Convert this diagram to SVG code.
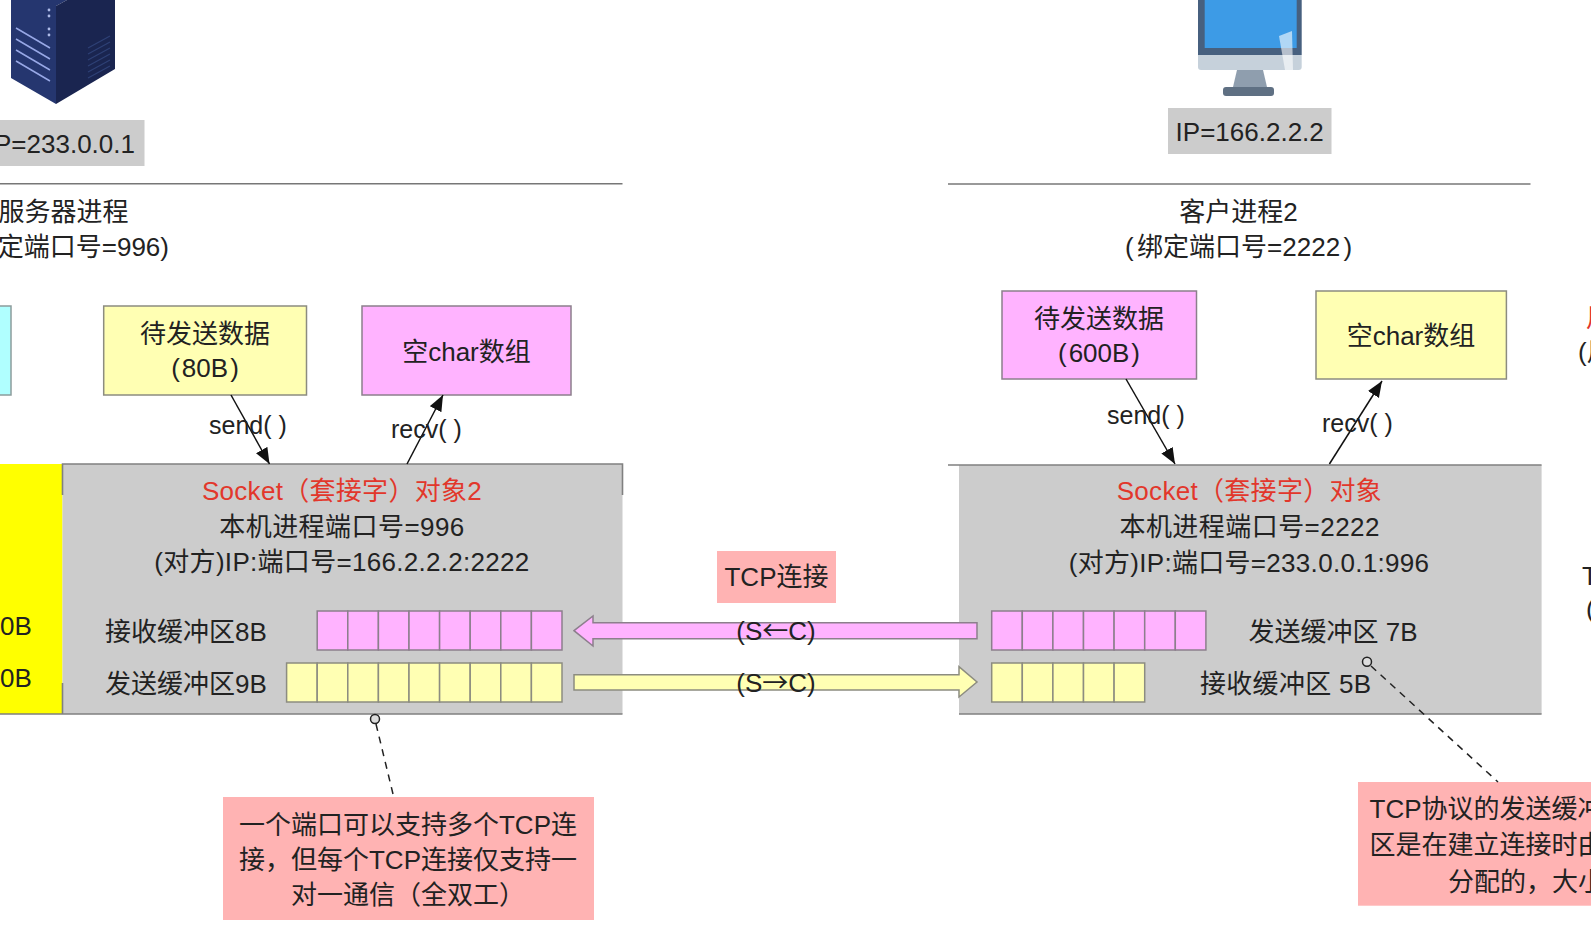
<svg xmlns="http://www.w3.org/2000/svg" width="1591" height="950" viewBox="0 0 1591 950">
<style>
text{font-family:"Liberation Sans","Noto Sans CJK SC",sans-serif;font-size:26px;fill:#222}
.m{text-anchor:middle}
.e{text-anchor:end}
.red{fill:#e2372b}
.fn{font-size:25px}
.ls{letter-spacing:.3px}
.lw{letter-spacing:.45px}
.cjk{font-family:"Noto Sans CJK SC",sans-serif}
.y{fill:#ffffb3;stroke:#8c8c80;stroke-width:1.5}
.p{fill:#ffb3ff;stroke:#8c7f8c;stroke-width:1.5}
.pk{fill:#ffb3b3}
.g{fill:#cccccc}
.edge{stroke:#808080;stroke-width:1.6;fill:none}
.c{stroke:#111;stroke-width:1.5;fill:none}
.d{stroke:#222;stroke-width:1.5;fill:none;stroke-dasharray:7 6}
.o{stroke:#222;stroke-width:1.5;fill:#ddd}
</style>
<defs>
<marker id="ah" markerUnits="userSpaceOnUse" markerWidth="18" markerHeight="14" refX="16" refY="6.5" orient="auto">
<path d="M0 0L16 6.5L0 13Z" fill="#111"/>
</marker>
<g id="py"><rect class="p" width="30.6" height="39"/></g>
<g id="yc"><rect class="y" width="30.6" height="39"/></g>
</defs>
<rect width="1591" height="950" fill="#fff"/>

<g id="server-icon">
<path d="M11 0V78L56 104V6L67 0Z" fill="#25366f"/>
<path d="M56 104L115 69V0H67L56 6Z" fill="#1a2550"/>
<g stroke="#98a8e6" stroke-width="1.5" fill="none">
<path d="M16 28L50 48M16 39L50 59M16 50L50 70M16 61L50 81"/>
</g>
<g fill="#aebbe8"><circle cx="49" cy="10" r="1.4"/><circle cx="49" cy="16" r="1.4"/><circle cx="49" cy="29" r="1.4"/><circle cx="49" cy="35" r="1.4"/></g>
<g stroke="#2e4075" stroke-width="1.2" fill="none">
<path d="M88 48L110 36M88 54L110 42M88 60L110 48M88 66L110 54M88 72L110 60M88 78L110 66"/>
</g>
</g>
<g id="server-ip">
<rect class="g" x="0" y="120" width="144.5" height="46"/>
<text x="135" y="153" class="e">P=233.0.0.1</text>
</g>
<path id="server-rule" d="M0 183.7H622.5" stroke="#777" stroke-width="1.5"/>
<g id="server-process">
<text x="-1.5" y="221">服务器进程</text>
<text x="169" y="256" class="e">定端口号=996)</text>
</g>
<g id="cyan-box"><rect x="-5" y="306" width="16" height="89" fill="#b0ffff" stroke="#8c9c9c" stroke-width="1.5"/></g>
<g id="server-send-data">
<rect class="y" x="103.7" y="306" width="202.8" height="89"/>
<text x="205" y="342.5" class="m">待发送数据</text>
<text x="205" y="377" class="m">(<tspan dx="2">80B</tspan><tspan dx="2">)</tspan></text>
</g>
<g id="server-recv-array">
<rect class="p" x="362" y="306" width="209" height="89"/>
<text x="466.5" y="360.5" class="m">空char数组</text>
</g>

<g id="server-socket">
<rect x="0" y="464" width="62.5" height="250" fill="#ffff00"/>
<rect class="g" x="62.5" y="464" width="560" height="250"/>
<path class="edge" d="M62.5 495V464H622.5V495M62.5 683V714M0 714H622.5"/>
<text x="342" y="500" class="m red ls">Socket（套接字）对象2</text>
<text x="342" y="536" class="m lw">本机进程端口号=996</text>
<text x="342" y="571" class="m ls">(对方)IP:端口号=166.2.2.2:2222</text>
<text x="0" y="635">0B</text>
<text x="0" y="687">0B</text>
<text x="105" y="641">接收缓冲区8B</text>
<text x="105" y="693">发送缓冲区9B</text>
<g id="server-recv-buffer">
<use href="#py" x="317.2" y="611"/><use href="#py" x="347.8" y="611"/><use href="#py" x="378.4" y="611"/><use href="#py" x="409" y="611"/><use href="#py" x="439.6" y="611"/><use href="#py" x="470.2" y="611"/><use href="#py" x="500.8" y="611"/><use href="#py" x="531.4" y="611"/>
</g>
<g id="server-send-buffer">
<use href="#yc" x="286.6" y="663"/><use href="#yc" x="317.2" y="663"/><use href="#yc" x="347.8" y="663"/><use href="#yc" x="378.4" y="663"/><use href="#yc" x="409" y="663"/><use href="#yc" x="439.6" y="663"/><use href="#yc" x="470.2" y="663"/><use href="#yc" x="500.8" y="663"/><use href="#yc" x="531.4" y="663"/>
</g>
</g>

<g id="server-note">
<rect class="pk" x="223" y="797" width="371" height="123"/>
<text x="408" y="834" class="m">一个端口可以支持多个TCP连</text>
<text x="408" y="869" class="m">接，但每个TCP连接仅支持一</text>
<text x="408" y="904" class="m">对一通信（全双工）</text>
</g>

<g id="client-icon">
<rect x="1198" y="0" width="103.7" height="55" fill="#47607f"/>
<rect x="1204.7" y="0" width="92" height="48" fill="#3d9be6"/>
<path d="M1198 55H1301.7V67Q1301.7 70 1298.7 70H1201Q1198 70 1198 67Z" fill="#c6d1db"/>
<path d="M1237 70H1263L1267 87H1233Z" fill="#8f9eae"/>
<rect x="1223" y="87" width="51" height="9" rx="3" fill="#5f7083"/>
<path d="M1279 36L1292 31L1293 70H1285Z" fill="#fff" fill-opacity="0.6"/>
</g>
<g id="client-ip">
<rect class="g" x="1168" y="108" width="163.5" height="46"/>
<text x="1249.7" y="141" class="m">IP=166.2.2.2</text>
</g>
<path id="client-rule" d="M948 184H1530.5" stroke="#777" stroke-width="1.5"/>
<g id="client-process">
<text x="1238.6" y="221" class="m">客户进程2</text>
<text x="1238.6" y="256" class="m">(<tspan dx="3.5">绑定端口号=2222</tspan><tspan dx="3.5">)</tspan></text>
</g>
<g id="client-send-data">
<rect class="p" x="1002" y="291" width="194.5" height="88"/>
<text x="1099" y="327.5" class="m">待发送数据</text>
<text x="1099" y="362" class="m">(<tspan dx="2">600B</tspan><tspan dx="2">)</tspan></text>
</g>
<g id="client-recv-array">
<rect class="y" x="1316" y="291" width="190.4" height="88"/>
<text x="1411" y="345" class="m">空char数组</text>
</g>

<g id="client-socket">
<rect class="g" x="959" y="465" width="582.6" height="249"/>
<path class="edge" d="M948 465H1541.6M959 714H1541.6"/>
<text x="1249.4" y="500" class="m red ls">Socket（套接字）对象</text>
<text x="1249.7" y="536" class="m lw">本机进程端口号=2222</text>
<text x="1249" y="571.5" class="m ls">(对方)IP:端口号=233.0.0.1:996</text>
<text x="1248.5" y="641">发送缓冲区 7B</text>
<text x="1200" y="693" class="ls">接收缓冲区 5B</text>
<g id="client-send-buffer">
<use href="#py" x="991.7" y="611"/><use href="#py" x="1022.3" y="611"/><use href="#py" x="1052.9" y="611"/><use href="#py" x="1083.5" y="611"/><use href="#py" x="1114.1" y="611"/><use href="#py" x="1144.7" y="611"/><use href="#py" x="1175.3" y="611"/>
</g>
<g id="client-recv-buffer">
<use href="#yc" x="991.7" y="663"/><use href="#yc" x="1022.3" y="663"/><use href="#yc" x="1052.9" y="663"/><use href="#yc" x="1083.5" y="663"/><use href="#yc" x="1114.1" y="663"/>
</g>
</g>

<g id="client-note">
<rect class="pk" x="1358" y="782" width="240" height="123.7"/>
<text x="1369.5" y="818">TCP协议的发送缓冲</text>
<text x="1369.5" y="854">区是在建立连接时由</text>
<text x="1448" y="891">分配的，大小</text>
</g>

<g id="tcp-label">
<rect class="pk" x="717" y="551" width="119" height="52"/>
<text x="776.5" y="586" class="m">TCP连接</text>
</g>

<g id="connectors">
<path class="c" d="M231 395L269.5 464" marker-end="url(#ah)"/>
<path class="c" d="M407 464L443 395" marker-end="url(#ah)"/>
<path class="c" d="M1126 379L1175 464" marker-end="url(#ah)"/>
<path class="c" d="M1329.4 464L1382 381" marker-end="url(#ah)"/>
<path class="p" d="M574 630.7L593 616V622.7H977V638.7H593V646Z"/>
<path class="y" d="M574 674.7H959V666.7L977 682L959 697V690H574Z"/>
<path class="d" d="M376 724L393 794"/>
<circle class="o" cx="375" cy="719" r="4.5"/>
<path class="d" d="M1371 666L1498 782"/>
<circle class="o" cx="1367" cy="661.7" r="4.5"/>
</g>
<g id="connector-labels">
<text x="209" y="434" class="fn">send( )</text>
<text x="391" y="438" class="fn">recv( )</text>
<text x="1107" y="424" class="fn">send( )</text>
<text x="1322" y="432" class="fn">recv( )</text>
<text x="776" y="640" class="m">(S<tspan class="cjk">←</tspan>C)</text>
<text x="776" y="692" class="m">(S<tspan class="cjk">→</tspan>C)</text>
</g>

<g id="right-edge-fragments">
<text x="1586" y="327" class="red">用</text>
<text x="1578" y="361">(用</text>
<text x="1582" y="585">T</text>
<text x="1586" y="618">(</text>
</g>
</svg>
